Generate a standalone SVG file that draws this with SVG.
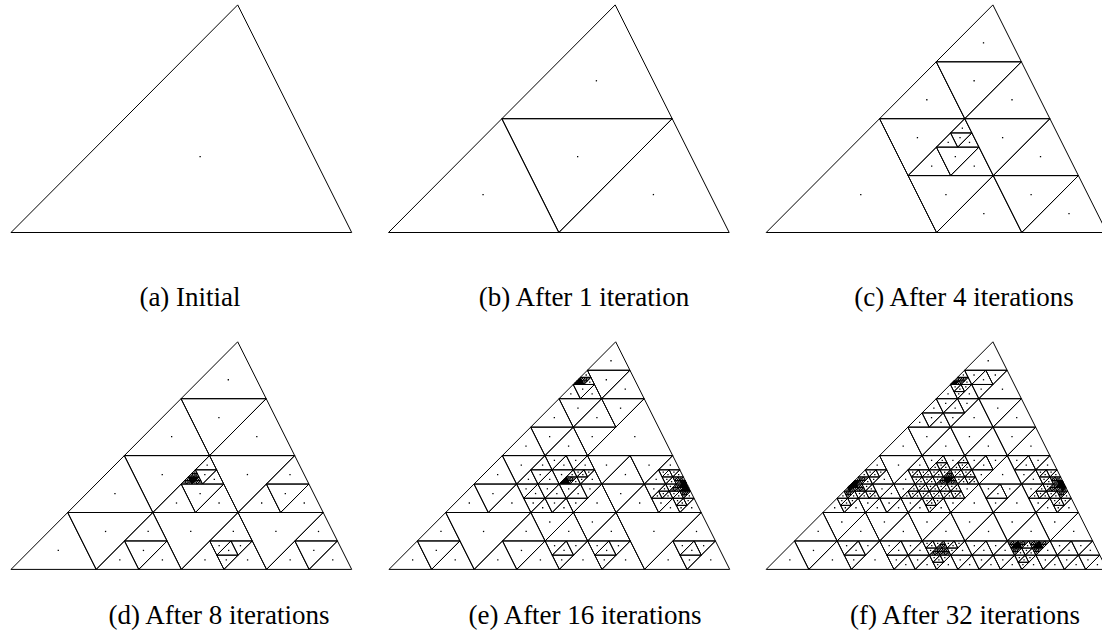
<svg xmlns="http://www.w3.org/2000/svg" width="1102" height="642" viewBox="0 0 1102 642">
<style>
.cap{font-family:"Liberation Serif","DejaVu Serif",serif;font-size:27px;fill:#000;text-anchor:middle}
</style>
<defs>
<g id="t"><path d="M0,0H1L0,1Z" fill="none" stroke="#000" stroke-width="1" stroke-linejoin="round" vector-effect="non-scaling-stroke"/><path d="M.3333,.3333h.0001" fill="none" stroke="#000" stroke-width="1.3" stroke-linecap="square" vector-effect="non-scaling-stroke"/></g>
<g id="q"><use href="#t" transform="scale(.5)"/><use href="#t" transform="matrix(.5,0,0,.5,.5,0)"/><use href="#t" transform="matrix(.5,0,0,.5,0,.5)"/><use href="#t" transform="matrix(-.5,0,0,-.5,.5,.5)"/></g>
<g id="q2"><use href="#q" transform="scale(.5)"/><use href="#q" transform="matrix(.5,0,0,.5,.5,0)"/><use href="#q" transform="matrix(.5,0,0,.5,0,.5)"/><use href="#q" transform="matrix(-.5,0,0,-.5,.5,.5)"/></g>
<g id="k3"><use href="#q" transform="scale(.5)"/><use href="#q" transform="matrix(.5,0,0,.5,.5,0)"/><use href="#q" transform="matrix(.5,0,0,.5,0,.5)"/><use href="#q2" transform="matrix(-.5,0,0,-.5,.5,.5)"/></g>
<g id="k4"><use href="#q" transform="scale(.5)"/><use href="#q" transform="matrix(.5,0,0,.5,.5,0)"/><use href="#q" transform="matrix(.5,0,0,.5,0,.5)"/><use href="#k3" transform="matrix(-.5,0,0,-.5,.5,.5)"/></g>
<g id="g3"><use href="#k4" transform="scale(.5)"/><use href="#q" transform="matrix(.5,0,0,.5,.5,0)"/><use href="#q" transform="matrix(.5,0,0,.5,0,.5)"/><use href="#q" transform="matrix(-.5,0,0,-.5,.5,.5)"/></g>
<g id="h5"><use href="#k3" transform="scale(.5)"/><use href="#k3" transform="matrix(.5,0,0,.5,.5,0)"/><use href="#q" transform="matrix(.5,0,0,.5,0,.5)"/><use href="#q" transform="matrix(-.5,0,0,-.5,.5,.5)"/></g>
<g id="pa"><use href="#q" transform="scale(.5)"/><use href="#t" transform="matrix(.5,0,0,.5,.5,0)"/><use href="#t" transform="matrix(.5,0,0,.5,0,.5)"/><use href="#q" transform="matrix(-.5,0,0,-.5,.5,.5)"/></g>
<g id="pb"><use href="#t" transform="scale(.5)"/><use href="#q" transform="matrix(.5,0,0,.5,.5,0)"/><use href="#t" transform="matrix(.5,0,0,.5,0,.5)"/><use href="#q" transform="matrix(-.5,0,0,-.5,.5,.5)"/></g>
<g id="pc"><use href="#t" transform="scale(.5)"/><use href="#t" transform="matrix(.5,0,0,.5,.5,0)"/><use href="#q" transform="matrix(.5,0,0,.5,0,.5)"/><use href="#q" transform="matrix(-.5,0,0,-.5,.5,.5)"/></g>
<g id="a2"><use href="#q2" transform="scale(.5)"/><use href="#t" transform="matrix(.5,0,0,.5,.5,0)"/><use href="#t" transform="matrix(.5,0,0,.5,0,.5)"/><use href="#q" transform="matrix(-.5,0,0,-.5,.5,.5)"/></g>
<g id="a3"><use href="#a2" transform="scale(.5)"/><use href="#t" transform="matrix(.5,0,0,.5,.5,0)"/><use href="#t" transform="matrix(.5,0,0,.5,0,.5)"/><use href="#q" transform="matrix(-.5,0,0,-.5,.5,.5)"/></g>
<g id="a4"><use href="#a3" transform="scale(.5)"/><use href="#t" transform="matrix(.5,0,0,.5,.5,0)"/><use href="#t" transform="matrix(.5,0,0,.5,0,.5)"/><use href="#q" transform="matrix(-.5,0,0,-.5,.5,.5)"/></g>
<g id="b2"><use href="#t" transform="scale(.5)"/><use href="#q2" transform="matrix(.5,0,0,.5,.5,0)"/><use href="#t" transform="matrix(.5,0,0,.5,0,.5)"/><use href="#q" transform="matrix(-.5,0,0,-.5,.5,.5)"/></g>
<g id="b3"><use href="#t" transform="scale(.5)"/><use href="#b2" transform="matrix(.5,0,0,.5,.5,0)"/><use href="#t" transform="matrix(.5,0,0,.5,0,.5)"/><use href="#q" transform="matrix(-.5,0,0,-.5,.5,.5)"/></g>
<g id="b4"><use href="#t" transform="scale(.5)"/><use href="#b3" transform="matrix(.5,0,0,.5,.5,0)"/><use href="#t" transform="matrix(.5,0,0,.5,0,.5)"/><use href="#q" transform="matrix(-.5,0,0,-.5,.5,.5)"/></g>
<g id="c2"><use href="#t" transform="scale(.5)"/><use href="#t" transform="matrix(.5,0,0,.5,.5,0)"/><use href="#q2" transform="matrix(.5,0,0,.5,0,.5)"/><use href="#q" transform="matrix(-.5,0,0,-.5,.5,.5)"/></g>
<g id="c3"><use href="#t" transform="scale(.5)"/><use href="#t" transform="matrix(.5,0,0,.5,.5,0)"/><use href="#c2" transform="matrix(.5,0,0,.5,0,.5)"/><use href="#q" transform="matrix(-.5,0,0,-.5,.5,.5)"/></g>
<g id="c4"><use href="#t" transform="scale(.5)"/><use href="#t" transform="matrix(.5,0,0,.5,.5,0)"/><use href="#c3" transform="matrix(.5,0,0,.5,0,.5)"/><use href="#q" transform="matrix(-.5,0,0,-.5,.5,.5)"/></g>
<g id="e6"><use href="#t" transform="scale(.5)"/><use href="#t" transform="matrix(.5,0,0,.5,.5,0)"/><use href="#a2" transform="matrix(.5,0,0,.5,0,.5)"/><use href="#t" transform="matrix(-.5,0,0,-.5,.5,.5)"/></g>
<g id="f6"><use href="#t" transform="scale(.5)"/><use href="#t" transform="matrix(.5,0,0,.5,.5,0)"/><use href="#a3" transform="matrix(.5,0,0,.5,0,.5)"/><use href="#q" transform="matrix(-.5,0,0,-.5,.5,.5)"/></g>
</defs>
<rect width="1102" height="642" fill="#fff"/>

<g id="panel-a" transform="matrix(340.7,0,226.7,-227.6,11,232.5)">
<use href="#t"/>
</g>

<g id="panel-b" transform="matrix(340.7,0,226.7,-227.6,388.5,232.5)">
<use href="#q"/>
</g>

<g id="panel-c" transform="matrix(340.7,0,226.7,-227.6,766.2,232.5)">
<use href="#t" transform="matrix(.5,0,0,.5,0,0)"/>
<use href="#q" transform="matrix(.5,0,0,.5,.5,0)"/>
<use href="#q" transform="matrix(.5,0,0,.5,0,.5)"/>
<use href="#t" transform="matrix(-.25,0,0,-.25,.5,.5)"/>
<use href="#t" transform="matrix(-.25,0,0,-.25,.25,.5)"/>
<use href="#t" transform="matrix(-.25,0,0,-.25,.5,.25)"/>
<use href="#t" transform="matrix(.125,0,0,.125,.25,.25)"/>
<use href="#t" transform="matrix(.125,0,0,.125,.375,.25)"/>
<use href="#t" transform="matrix(-.125,0,0,-.125,.375,.375)"/>
<use href="#q" transform="matrix(.125,0,0,.125,.25,.375)"/>
</g>

<g id="panel-d" transform="matrix(340.7,0,226.7,-227.6,11,569.4)">
<use href="#t" transform="matrix(.25,0,0,.25,0,0)"/>
<use href="#q" transform="matrix(.25,0,0,.25,.25,0)"/>
<use href="#t" transform="matrix(.25,0,0,.25,0,.25)"/>
<use href="#t" transform="matrix(-.25,0,0,-.25,.25,.25)"/>
<use href="#t" transform="matrix(.125,0,0,.125,.5,0)"/>
<use href="#t" transform="matrix(.125,0,0,.125,.625,0)"/>
<use href="#t" transform="matrix(.125,0,0,.125,.5,.125)"/>
<use href="#q" transform="matrix(-.125,0,0,-.125,.625,.125)"/>
<use href="#q" transform="matrix(.25,0,0,.25,.75,0)"/>
<use href="#q" transform="matrix(.25,0,0,.25,.5,.25)"/>
<use href="#t" transform="matrix(-.25,0,0,-.25,.75,.25)"/>
<use href="#q" transform="matrix(.5,0,0,.5,0,.5)"/>
<use href="#t" transform="matrix(-.25,0,0,-.25,.5,.5)"/>
<use href="#t" transform="matrix(-.25,0,0,-.25,.25,.5)"/>
<use href="#t" transform="matrix(-.25,0,0,-.25,.5,.25)"/>
<use href="#t" transform="matrix(.125,0,0,.125,.25,.25)"/>
<use href="#t" transform="matrix(.125,0,0,.125,.375,.25)"/>
<use href="#t" transform="matrix(-.125,0,0,-.125,.375,.375)"/>
<use href="#t" transform="matrix(.0625,0,0,.0625,.3125,.375)"/>
<use href="#t" transform="matrix(.0625,0,0,.0625,.25,.4375)"/>
<use href="#t" transform="matrix(-.0625,0,0,-.0625,.3125,.4375)"/>
<use href="#k3" transform="matrix(.0625,0,0,.0625,.25,.375)"/>
</g>

<g id="panel-e" transform="matrix(340.7,0,226.7,-227.6,389,569.4)">
<use href="#q" transform="matrix(.25,0,0,.25,0,0)"/>
<use href="#t" transform="matrix(-.25,0,0,-.25,.25,.25)"/>
<use href="#q" transform="matrix(.25,0,0,.25,.25,0)"/>
<use href="#t" transform="matrix(-.125,0,0,-.125,.5,.25)"/>
<use href="#t" transform="matrix(-.125,0,0,-.125,.375,.25)"/>
<use href="#q" transform="matrix(-.125,0,0,-.125,.5,.125)"/>
<use href="#t" transform="matrix(.125,0,0,.125,.375,.125)"/>
<use href="#t" transform="matrix(.125,0,0,.125,.5,0)"/>
<use href="#t" transform="matrix(.125,0,0,.125,.625,0)"/>
<use href="#t" transform="matrix(.125,0,0,.125,.5,.125)"/>
<use href="#q" transform="matrix(-.125,0,0,-.125,.625,.125)"/>
<use href="#t" transform="matrix(-.25,0,0,-.25,.75,.25)"/>
<use href="#t" transform="matrix(.125,0,0,.125,.75,0)"/>
<use href="#t" transform="matrix(.125,0,0,.125,.875,0)"/>
<use href="#t" transform="matrix(.125,0,0,.125,.75,.125)"/>
<use href="#q" transform="matrix(-.125,0,0,-.125,.875,.125)"/>
<use href="#q" transform="matrix(.25,0,0,.25,0,.25)"/>
<use href="#q" transform="matrix(-.125,0,0,-.125,.25,.5)"/>
<use href="#t" transform="matrix(-.125,0,0,-.125,.125,.5)"/>
<use href="#q" transform="matrix(-.125,0,0,-.125,.25,.375)"/>
<use href="#q" transform="matrix(.125,0,0,.125,.125,.375)"/>
<use href="#q" transform="matrix(.125,0,0,.125,.25,.25)"/>
<use href="#t" transform="matrix(.125,0,0,.125,.375,.25)"/>
<use href="#q" transform="matrix(-.125,0,0,-.125,.375,.375)"/>
<use href="#a3" transform="matrix(.125,0,0,.125,.25,.375)"/>
<use href="#q" transform="matrix(-.25,0,0,-.25,.5,.5)"/>
<use href="#t" transform="matrix(.125,0,0,.125,.5,.25)"/>
<use href="#c3" transform="matrix(.125,0,0,.125,.625,.25)"/>
<use href="#b4" transform="matrix(.125,0,0,.125,.5,.375)"/>
<use href="#a4" transform="matrix(-.125,0,0,-.125,.625,.375)"/>
<use href="#q" transform="matrix(.25,0,0,.25,0,.5)"/>
<use href="#q" transform="matrix(-.25,0,0,-.25,.25,.75)"/>
<use href="#t" transform="matrix(.25,0,0,.25,.25,.5)"/>
<use href="#e6" transform="matrix(.125,0,0,.125,0,.75)"/>
<use href="#t" transform="matrix(.125,0,0,.125,.125,.75)"/>
<use href="#t" transform="matrix(.125,0,0,.125,0,.875)"/>
<use href="#t" transform="matrix(-.125,0,0,-.125,.125,.875)"/>
</g>

<g id="panel-f" transform="matrix(340.7,0,226.7,-227.6,766.2,569.4)">
<use href="#t" transform="matrix(.125,0,0,.125,0,0)"/>
<use href="#t" transform="matrix(-.125,0,0,-.125,.125,.125)"/>
<use href="#t" transform="matrix(.125,0,0,.125,.125,0)"/>
<use href="#q" transform="matrix(-.125,0,0,-.125,.25,.125)"/>
<use href="#t" transform="matrix(.125,0,0,.125,.25,0)"/>
<use href="#q" transform="matrix(-.125,0,0,-.125,.375,.125)"/>
<use href="#q" transform="matrix(.125,0,0,.125,.375,0)"/>
<use href="#k3" transform="matrix(-.125,0,0,-.125,.5,.125)"/>
<use href="#q" transform="matrix(.125,0,0,.125,.5,0)"/>
<use href="#q" transform="matrix(-.125,0,0,-.125,.625,.125)"/>
<use href="#q" transform="matrix(.125,0,0,.125,.625,0)"/>
<use href="#h5" transform="matrix(-.125,0,0,-.125,.75,.125)"/>
<use href="#q" transform="matrix(.125,0,0,.125,.75,0)"/>
<use href="#q" transform="matrix(-.125,0,0,-.125,.875,.125)"/>
<use href="#q" transform="matrix(.125,0,0,.125,.875,0)"/>
<use href="#t" transform="matrix(.125,0,0,.125,0,.125)"/>
<use href="#t" transform="matrix(.125,0,0,.125,.125,.125)"/>
<use href="#t" transform="matrix(.125,0,0,.125,.25,.125)"/>
<use href="#t" transform="matrix(.125,0,0,.125,.375,.125)"/>
<use href="#t" transform="matrix(.125,0,0,.125,.5,.125)"/>
<use href="#t" transform="matrix(.125,0,0,.125,.625,.125)"/>
<use href="#t" transform="matrix(.125,0,0,.125,.75,.125)"/>
<use href="#t" transform="matrix(-.125,0,0,-.125,.125,.25)"/>
<use href="#t" transform="matrix(-.125,0,0,-.125,.25,.25)"/>
<use href="#t" transform="matrix(-.125,0,0,-.125,.375,.25)"/>
<use href="#t" transform="matrix(-.125,0,0,-.125,.5,.25)"/>
<use href="#t" transform="matrix(-.125,0,0,-.125,.625,.25)"/>
<use href="#t" transform="matrix(-.125,0,0,-.125,.75,.25)"/>
<use href="#c4" transform="matrix(.125,0,0,.125,0,.25)"/>
<use href="#b4" transform="matrix(-.125,0,0,-.125,.125,.375)"/>
<use href="#q" transform="matrix(.125,0,0,.125,.125,.25)"/>
<use href="#pa" transform="matrix(-.125,0,0,-.125,.25,.375)"/>
<use href="#pc" transform="matrix(.125,0,0,.125,.25,.25)"/>
<use href="#pb" transform="matrix(-.125,0,0,-.125,.375,.375)"/>
<use href="#t" transform="matrix(.125,0,0,.125,.375,.25)"/>
<use href="#q" transform="matrix(-.125,0,0,-.125,.5,.375)"/>
<use href="#t" transform="matrix(.125,0,0,.125,.5,.25)"/>
<use href="#a4" transform="matrix(-.125,0,0,-.125,.625,.375)"/>
<use href="#c4" transform="matrix(.125,0,0,.125,.625,.25)"/>
<use href="#a4" transform="matrix(.125,0,0,.125,0,.375)"/>
<use href="#t" transform="matrix(-.125,0,0,-.125,.125,.5)"/>
<use href="#pb" transform="matrix(.125,0,0,.125,.125,.375)"/>
<use href="#pc" transform="matrix(-.125,0,0,-.125,.25,.5)"/>
<use href="#g3" transform="matrix(.125,0,0,.125,.25,.375)"/>
<use href="#q" transform="matrix(-.125,0,0,-.125,.375,.5)"/>
<use href="#t" transform="matrix(.125,0,0,.125,.375,.375)"/>
<use href="#q" transform="matrix(-.125,0,0,-.125,.5,.5)"/>
<use href="#b4" transform="matrix(.125,0,0,.125,.5,.375)"/>
<use href="#t" transform="matrix(.125,0,0,.125,0,.5)"/>
<use href="#t" transform="matrix(-.125,0,0,-.125,.125,.625)"/>
<use href="#t" transform="matrix(.125,0,0,.125,.125,.5)"/>
<use href="#t" transform="matrix(-.125,0,0,-.125,.25,.625)"/>
<use href="#t" transform="matrix(.125,0,0,.125,.25,.5)"/>
<use href="#t" transform="matrix(-.125,0,0,-.125,.375,.625)"/>
<use href="#t" transform="matrix(.125,0,0,.125,.375,.5)"/>
<use href="#q" transform="matrix(.125,0,0,.125,0,.625)"/>
<use href="#q" transform="matrix(-.125,0,0,-.125,.125,.75)"/>
<use href="#t" transform="matrix(.125,0,0,.125,.125,.625)"/>
<use href="#t" transform="matrix(-.125,0,0,-.125,.25,.75)"/>
<use href="#t" transform="matrix(.125,0,0,.125,.25,.625)"/>
<use href="#f6" transform="matrix(.125,0,0,.125,0,.75)"/>
<use href="#q" transform="matrix(-.125,0,0,-.125,.125,.875)"/>
<use href="#t" transform="matrix(.125,0,0,.125,.125,.75)"/>
<use href="#t" transform="matrix(.125,0,0,.125,0,.875)"/>
</g>

<g id="captions">
<text class="cap" x="190" y="306">(a) Initial</text>
<text class="cap" x="584" y="306">(b) After 1 iteration</text>
<text class="cap" x="964" y="306">(c) After 4 iterations</text>
<text class="cap" x="219" y="624">(d) After 8 iterations</text>
<text class="cap" x="585" y="624">(e) After 16 iterations</text>
<text class="cap" x="965" y="624">(f) After 32 iterations</text>
</g>
</svg>
